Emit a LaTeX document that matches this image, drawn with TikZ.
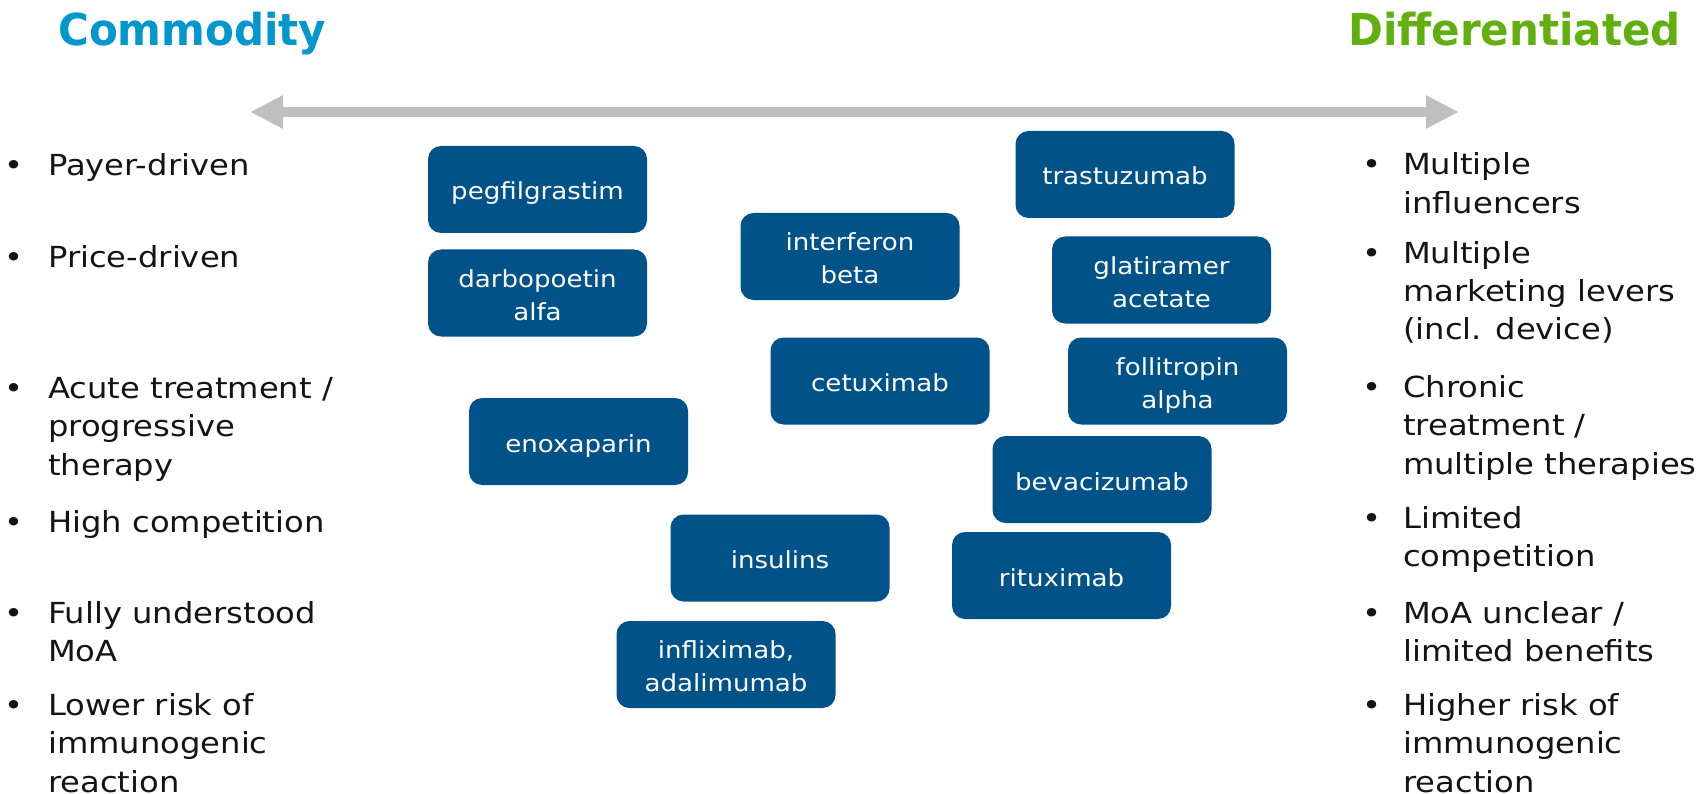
\documentclass[tikz,border=0pt]{standalone}
\usepackage{fontspec}
\setmainfont{DejaVu Sans}[FakeStretch=1.11]
\newfontfamily\headfont{DejaVu Sans Bold}[FakeStretch=0.955]
\newfontfamily\boxfont{DejaVu Sans}[FakeStretch=1.11]
\usetikzlibrary{arrows.meta}
\definecolor{drugblue}{RGB}{0,82,136}
\definecolor{commblue}{RGB}{0,150,206}
\definecolor{diffgreen}{RGB}{98,175,16}
\definecolor{axisgray}{RGB}{191,191,191}
\definecolor{bodytext}{RGB}{20,20,20}
% bullet item: a bullet in a fixed-width slot, then the lines of text
\newcommand\bulletitem[2]{\makebox[#1][l]{\textbullet}\begin{tabular}[t]{@{}l@{}}#2\end{tabular}}
% line strut for the drug labels, so every line takes the same room
\newcommand\ls{\rule[-6pt]{0pt}{33pt}}
\begin{document}
\begin{tikzpicture}[x=1pt,y=-1pt,
  drug/.style={rounded corners=13pt, fill=drugblue, text=white,
    minimum width=219pt, minimum height=87pt, inner sep=0pt, align=center,
    font=\boxfont\fontsize{23.5}{33}\selectfont},
  heading/.style={anchor=base west, inner sep=0pt, font=\headfont\fontsize{44}{50}\selectfont},
  point/.style={anchor=base west, inner sep=0pt, text=bodytext, font=\fontsize{29}{38.5}\selectfont}]
\useasboundingbox (0,0) rectangle (1696,794);

% headings
\node[heading, text=commblue] (comm) at (58,46) {Commodity};
\node[heading, text=diffgreen, anchor=base east] (diff) at (1681,46) {Differentiated};

% spectrum axis
\coordinate (axL) at (250,112);
\coordinate (axR) at (1459,112);
\draw[axisgray, line width=10pt, {Triangle[length=33pt,width=31pt]}-{Triangle[length=33pt,width=31pt]}] (axL) -- (axR);

% commodity characteristics
\node[point] (l1) at (4,176) {\bulletitem{44pt}{Payer-driven}};
\node[point] (l2) at (4,268) {\bulletitem{44pt}{Price-driven}};
\node[point] (l3) at (4,398) {\bulletitem{44pt}{Acute treatment /\\progressive\\therapy}};
\node[point] (l4) at (4,532) {\bulletitem{44pt}{High competition}};
\node[point] (l5) at (4,623) {\bulletitem{44pt}{Fully understood\\MoA}};
\node[point] (l6) at (4,715) {\bulletitem{44pt}{Lower risk of\\immunogenic\\reaction}};

% differentiated characteristics
\node[point] (r1) at (1362,175) {\bulletitem{41pt}{Multiple\\influencers}};
\node[point] (r2) at (1362,263) {\bulletitem{41pt}{Multiple\\marketing levers\\(incl. device)}};
\node[point] (r3) at (1362,397) {\bulletitem{41pt}{Chronic\\treatment /\\multiple therapies}};
\node[point] (r4) at (1362,528) {\bulletitem{41pt}{Limited\\competition}};
\node[point] (r5) at (1362,623) {\bulletitem{41pt}{MoA unclear /\\limited benefits}};
\node[point] (r6) at (1362,715) {\bulletitem{41pt}{Higher risk of\\immunogenic\\reaction}};

% biologics
\node[drug] (peg)  at (537.5,189.5) {\ls pegfilgrastim};
\node[drug] (darb) at (537.5,293)   {\ls darbopoetin\\\ls alfa};
\node[drug] (ifn)  at (850,256.5)   {\ls interferon\\\ls beta};
\node[drug] (tras) at (1125,174.5)  {\ls trastuzumab};
\node[drug] (glat) at (1161.5,280)  {\ls glatiramer\\\ls acetate};
\node[drug] (cetu) at (880,381)     {\ls cetuximab};
\node[drug] (foll) at (1177.5,381)  {\ls follitropin\\\ls alpha};
\node[drug] (enox) at (578.5,441.5) {\ls enoxaparin};
\node[drug] (beva) at (1102,479.5)  {\ls bevacizumab};
\node[drug] (insu) at (780,558)     {\ls insulins};
\node[drug] (ritu) at (1061.5,575.5){\ls rituximab};
\node[drug] (infl) at (726,664.5)   {\ls infliximab,\\\ls adalimumab};
\end{tikzpicture}
\end{document}
